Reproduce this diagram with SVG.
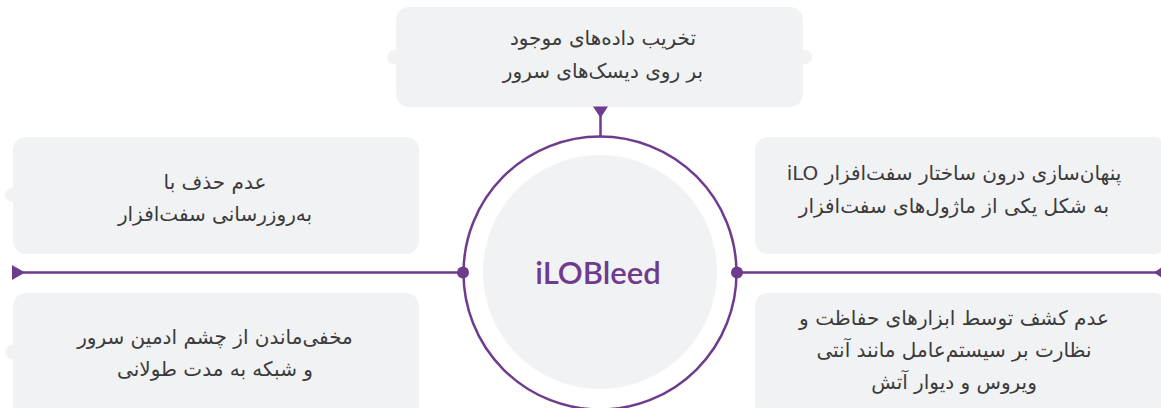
<svg xmlns="http://www.w3.org/2000/svg" width="1161" height="408" viewBox="0 0 1161 408">
<style>
.box{fill:#f1f2f4}
.t{font-family:"DejaVu Sans",sans-serif;font-size:20px;fill:#3b3b3b;text-anchor:middle;direction:rtl}
.ln{stroke:#6e3b8e;stroke-width:2.5;fill:none}
.pf{fill:#6e3b8e}
</style>
<rect width="1161" height="408" fill="#ffffff"/>
<g id="node-top">
<circle class="box" cx="394" cy="57" r="7"/>
<circle class="box" cx="805" cy="57" r="7"/>
<rect class="box" x="396" y="7" width="407" height="100" rx="13"/>
<text class="t" x="603" y="45">تخریب داده‌های موجود</text>
<text class="t" x="603" y="78">بر روی دیسک‌های سرور</text>
</g>
<g id="node-left-top">
<circle class="box" cx="12" cy="195" r="7"/>
<rect class="box" x="13" y="137" width="406" height="117" rx="13"/>
<text class="t" x="215" y="189">عدم حذف با</text>
<text class="t" x="215" y="221">به‌روزرسانی سفت‌افزار</text>
</g>
<g id="node-right-top">
<rect class="box" x="755" y="137" width="412" height="117" rx="13"/>
<text class="t" x="954" y="180">پنهان‌سازی درون ساختار سفت‌افزار iLO</text>
<text class="t" x="954" y="213">به شکل یکی از ماژول‌های سفت‌افزار</text>
</g>
<g id="node-left-bottom">
<circle class="box" cx="12" cy="352" r="7"/>
<rect class="box" x="13" y="293" width="406" height="130" rx="13"/>
<text class="t" x="215" y="344">مخفی‌ماندن از چشم ادمین سرور</text>
<text class="t" x="215" y="376">و شبکه به مدت طولانی</text>
</g>
<g id="node-right-bottom">
<rect class="box" x="755" y="293" width="412" height="130" rx="13"/>
<text class="t" x="954" y="325">عدم کشف توسط ابزارهای حفاظت و</text>
<text class="t" x="954" y="357">نظارت بر سیستم‌عامل مانند آنتی</text>
<text class="t" x="954" y="389">ویروس و دیوار آتش</text>
</g>
<g id="node-center">
<circle cx="600" cy="273" r="136.5" fill="#ffffff" stroke="#6e3b8e" stroke-width="2.5"/>
<circle cx="600" cy="272" r="117" fill="#f1f2f4"/>
<text x="598" y="284" font-family="Lato,sans-serif" font-weight="600" font-size="31" fill="#6e3b8e" text-anchor="middle">iLOBleed</text>
</g>
<g id="connectors">
<line class="ln" x1="22" y1="272.5" x2="463" y2="272.5"/>
<polygon class="pf" points="12,265 12,280 25,272.5"/>
<line class="ln" x1="737" y1="272.5" x2="1156" y2="272.5"/>
<polygon class="pf" points="1165,265 1165,280 1154,272.5"/>
<line class="ln" x1="600.5" y1="112" x2="600.5" y2="137"/>
<polygon class="pf" points="593,106.5 608,106.5 600.5,118"/>
<circle class="pf" cx="463" cy="272.5" r="6"/>
<circle class="pf" cx="737" cy="272.5" r="6"/>
</g>
</svg>
